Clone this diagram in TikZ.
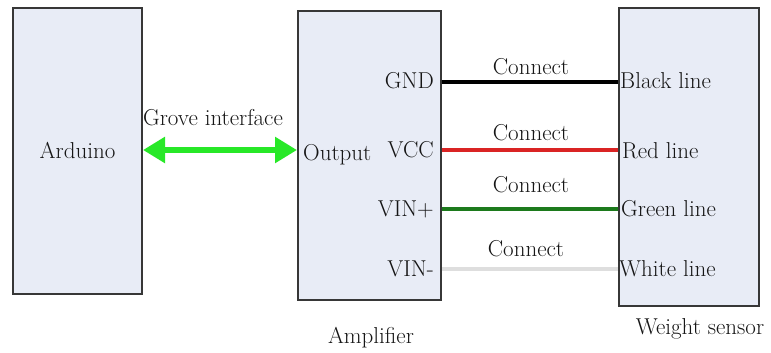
\documentclass[tikz,border=0pt]{standalone}
\usetikzlibrary{arrows.meta}
\definecolor{boxfill}{RGB}{232,236,246}
\definecolor{boxline}{RGB}{55,55,55}
\definecolor{grovegreen}{RGB}{40,232,40}
\definecolor{wirered}{RGB}{218,36,36}
\definecolor{wiregreen}{RGB}{28,122,28}
\definecolor{wirewhite}{RGB}{222,222,222}
\definecolor{txt}{RGB}{22,22,22}
\begin{document}
\begin{tikzpicture}[x=1bp,y=-1bp,
  font=\fontsize{23bp}{27bp}\selectfont, text=txt,
  blk/.style={draw=boxline, line width=2bp, fill=boxfill, inner sep=0pt, anchor=north west},
  pin/.style={inner sep=0pt, text height=15.5bp, text depth=0bp},
  lbl/.style={inner sep=0pt, anchor=base},
  wire/.style={line width=4bp},
  garrow/.style={draw=grovegreen, line width=6bp, {Triangle[length=22bp,width=25bp]}-{Triangle[length=22bp,width=25bp]}}]
\useasboundingbox (0,0) rectangle (771,352);
% boxes
\node[blk, minimum width=129bp, minimum height=286bp] (ard) at (12,7) {};
\node[blk, minimum width=143bp, minimum height=289bp] (amp) at (297,10) {};
\node[blk, minimum width=140bp, minimum height=298bp] (sens) at (618,7) {};
% box texts
\node[pin] (ardl) at (ard.center) {Arduino};
\node[pin, anchor=west] (out) at (303,152.5) {Output};
\node[pin, anchor=east] (gnd) at (434,81) {GND};
\node[pin, anchor=east] (vcc) at (434,149.5) {VCC};
\node[pin, anchor=east] (vinp) at (434,208.5) {VIN+};
\node[pin, anchor=east] (vinm) at (434,268.5) {VIN-};
\node[pin, anchor=west] (bl) at (620,81) {Black line};
\node[pin, anchor=west] (rl) at (622,151) {Red line};
\node[pin, anchor=west] (gl) at (621,209) {Green line};
\node[pin, anchor=west] (wl) at (619,268.5) {White line};
% captions
\node[lbl] (grove) at (213,125) {Grove interface};
\node[lbl] (c1) at (531,74) {Connect};
\node[lbl] (c2) at (531,140) {Connect};
\node[lbl] (c3) at (531,192) {Connect};
\node[lbl] (c4) at (526,256) {Connect};
\node[lbl] (ampl) at (371,343) {Amplifier};
\node[lbl] (sensl) at (700,334) {Weight sensor};
% connectors
\draw[garrow] (ard.east |- 0,150) -- (amp.west |- 0,150);
\draw[wire, draw=black] (amp.east |- 0,82) -- (sens.west |- 0,82);
\draw[wire, draw=wirered] (amp.east |- 0,150) -- (sens.west |- 0,150);
\draw[wire, draw=wiregreen] (amp.east |- 0,209) -- (sens.west |- 0,209);
\draw[wire, draw=wirewhite] (amp.east |- 0,269) -- (sens.west |- 0,269);
\end{tikzpicture}
\end{document}
